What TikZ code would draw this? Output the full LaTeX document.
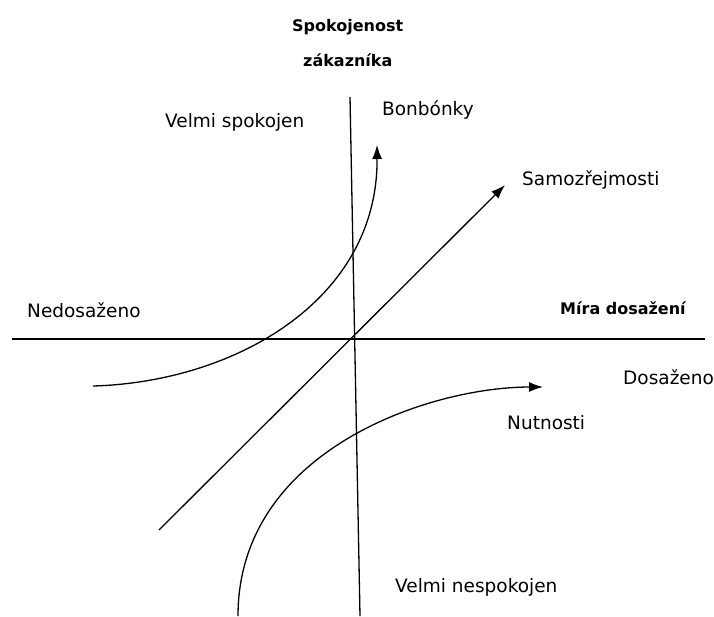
\documentclass[tikz,border=0pt]{standalone}
\usepackage{fontspec}
\setmainfont{DejaVu Sans}
\usetikzlibrary{arrows.meta}
\begin{document}
\begin{tikzpicture}[x=1pt,y=-1pt,
  lbl/.style={font=\fontsize{18.5}{22}\selectfont, inner sep=0pt, anchor=west},
  blbl/.style={font=\fontsize{16}{19}\selectfont\bfseries, inner sep=0pt, anchor=west},
  axis/.style={line width=1.3pt},
  curve/.style={line width=1.3pt, -{Latex[length=14pt,width=10pt]}}]
\useasboundingbox (0,0) rectangle (714,616);
% axes
\coordinate (vt) at (350,97);
\coordinate (vb) at (360,616);
\coordinate (hl) at (12,339);
\coordinate (hr) at (705,339);
\draw[axis] (vt) -- (vb);
\draw[axis] (hl) -- (hr);
% diagonal
\coordinate (ds) at (159,530);
\coordinate (de) at (505,185);
\draw[curve] (ds) -- (de);
% Bonbonky curve
\coordinate (bs) at (93,386);
\coordinate (be) at (377,145);
\draw[curve] (bs) .. controls (235,382) and (378,300) .. (be);
% Nutnosti curve
\coordinate (ns) at (238,616);
\coordinate (ne) at (543,387);
\draw[curve] (ns) .. controls (238,450) and (430,387) .. (ne);
% labels
\node[blbl] (t1) at (292,27) {Spokojenost};
\node[blbl] (t2) at (303,60) {zákazníka};
\node[lbl] (vs) at (165,122) {Velmi spokojen};
\node[lbl] (bb) at (382,110) {Bonbónky};
\node[lbl] (sz) at (522,180) {Samozřejmosti};
\node[lbl] (nd) at (27,310) {Nedosaženo};
\node[blbl] (md) at (560,308) {Míra dosažení};
\node[lbl] (ds2) at (623,377) {Dosaženo};
\node[lbl] (nu) at (507,423) {Nutnosti};
\node[lbl] (vn) at (395,587) {Velmi nespokojen};
\end{tikzpicture}
\end{document}
